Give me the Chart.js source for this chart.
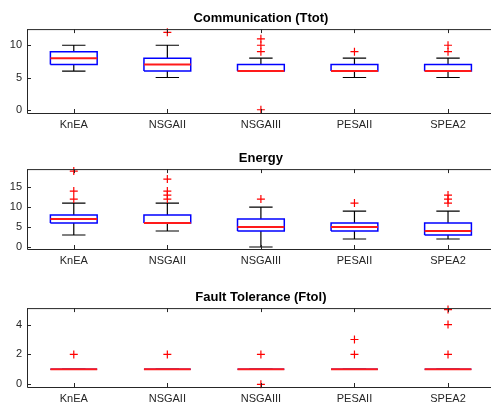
<!DOCTYPE html>
<html>
<head>
<meta charset="utf-8">
<script src="https://cdn.jsdelivr.net/npm/chart.js@4.4.1/dist/chart.umd.min.js"></script>
<style>
  html, body { margin: 0; padding: 0; background: #fff; }
  body { width: 491px; height: 403px; overflow: hidden; position: relative; }
  .plot { position: absolute; left: 0; }
</style>
</head>
<body>
<div class="plot" style="top:0px"><canvas id="c1" width="500" height="135"></canvas></div>
<div class="plot" style="top:140px"><canvas id="c2" width="500" height="131"></canvas></div>
<div class="plot" style="top:279px"><canvas id="c3" width="500" height="130"></canvas></div>
<script>
// algorithms on the x axis
const algos = ['KnEA', 'NSGAII', 'NSGAIII', 'PESAII', 'SPEA2'];

// Communication (Ttot)
const commLo  = [6, 5, 6, 5, 5];
const commQ1  = [7, 6, 6, 6, 6];
const commMed = [8, 7, 6, 6, 6];
const commQ3  = [9, 8, 7, 7, 7];
const commHi  = [10, 10, 8, 8, 8];
const commOut = [[], [12], [0, 9, 10, 11], [9], [9, 10]];
const commTicks = [0, 5, 10];

// Energy
const enLo  = [3, 4, 0, 2, 2];
const enQ1  = [6, 6, 4, 4, 3];
const enMed = [7, 6, 5, 5, 4];
const enQ3  = [8, 8, 7, 6, 6];
const enHi  = [11, 11, 10, 9, 9];
const enOut = [[12, 14, 19], [12, 13, 14, 17], [12], [11], [11, 12, 13]];
const enTicks = [0, 5, 10, 15];

// Fault Tolerance (Ftol)
const ftLo  = [1, 1, 1, 1, 1];
const ftQ1  = [1, 1, 1, 1, 1];
const ftMed = [1, 1, 1, 1, 1];
const ftQ3  = [1, 1, 1, 1, 1];
const ftHi  = [1, 1, 1, 1, 1];
const ftOut = [[2], [2], [0, 2], [2, 3], [2, 4, 5]];
const ftTicks = [0, 2, 4];

const axisColor = '#262626';
const fontFamily = "'Liberation Sans', Arial, Helvetica, sans-serif";

// axes box (top + left + bottom) and inward ticks, like matlab
const frame = {
  id: 'frame',
  afterDatasetsDraw(chart) {
    const { ctx, chartArea: a, scales: { x, y } } = chart;
    ctx.save();
    ctx.strokeStyle = axisColor;
    ctx.lineWidth = 1;
    ctx.beginPath();
    ctx.moveTo(a.left + 0.5, a.top + 0.5);
    ctx.lineTo(a.right, a.top + 0.5);
    ctx.moveTo(a.left + 0.5, a.top);
    ctx.lineTo(a.left + 0.5, a.bottom + 0.5);
    ctx.lineTo(a.right, a.bottom + 0.5);
    x.ticks.forEach(t => {
      const px = Math.round(x.getPixelForValue(t.value)) + 0.5;
      ctx.moveTo(px, a.bottom); ctx.lineTo(px, a.bottom - 4);
      ctx.moveTo(px, a.top); ctx.lineTo(px, a.top + 4);
    });
    y.ticks.forEach(t => {
      const py = Math.round(y.getPixelForValue(t.value)) + 0.5;
      ctx.moveTo(a.left, py); ctx.lineTo(a.left + 4, py);
    });
    ctx.stroke();
    ctx.restore();
  }
};

function boxDatasets(lo, q1, med, q3, hi, out) {
  const ds = [];
  const line = (data, color, width, order) => ({
    data: data, showLine: true, borderColor: color, borderWidth: width,
    pointRadius: 0, borderJoinStyle: 'miter', order: order, clip: 6
  });
  algos.forEach((name, i) => {
    const x = i + 1;
    ds.push(line([{x: x, y: q3[i]}, {x: x, y: hi[i]}, {x: x - 0.125, y: hi[i]}, {x: x + 0.125, y: hi[i]}], '#000', 1.2, 3));
    ds.push(line([{x: x, y: q1[i]}, {x: x, y: lo[i]}, {x: x - 0.125, y: lo[i]}, {x: x + 0.125, y: lo[i]}], '#000', 1.2, 3));
    ds.push(line([{x: x - 0.25, y: q1[i]}, {x: x + 0.25, y: q1[i]}, {x: x + 0.25, y: q3[i]},
                  {x: x - 0.25, y: q3[i]}, {x: x - 0.25, y: q1[i]}], '#0000ff', 1.5, 2));
    ds.push(line([{x: x - 0.25, y: med[i]}, {x: x + 0.25, y: med[i]}], '#ff1a1a', 2, 1));
    if (out[i].length) {
      ds.push({
        data: out[i].map(v => ({x: x, y: v})), showLine: false,
        pointStyle: 'cross', pointRadius: 4, borderColor: '#ff0000', borderWidth: 1.2,
        backgroundColor: '#ff0000', order: 0, clip: 6
      });
    }
  });
  return ds;
}

function makeChart(id, title, lo, q1, med, q3, hi, out, yMin, yMax, yTicks) {
  return new Chart(document.getElementById(id), {
    type: 'scatter',
    data: { datasets: boxDatasets(lo, q1, med, q3, hi, out) },
    plugins: [frame],
    options: {
      responsive: false,
      animation: false,
      events: [],
      layout: { padding: { top: 11, left: 0, right: 4, bottom: 0 } },
      plugins: {
        legend: { display: false },
        tooltip: { enabled: false },
        title: {
          display: true, text: title, fullSize: false, color: '#000',
          font: { family: fontFamily, size: 13, weight: 'bold' },
          padding: { top: 0, bottom: 2.5 }
        }
      },
      scales: {
        x: {
          type: 'linear', min: 0.5, max: 5.5,
          grid: { display: false, drawTicks: false },
          border: { display: false },
          afterBuildTicks: s => { s.ticks = algos.map((n, i) => ({ value: i + 1 })); },
          afterFit: s => { s.height = 22; },
          ticks: {
            autoSkip: false, maxRotation: 0, padding: 5, color: axisColor,
            font: { family: fontFamily, size: 11 },
            callback: v => algos[v - 1]
          }
        },
        y: {
          min: yMin, max: yMax,
          grid: { display: false, drawTicks: false },
          border: { display: false },
          afterBuildTicks: s => { s.ticks = yTicks.map(v => ({ value: v })); },
          afterFit: s => { s.width = 27; },
          ticks: {
            padding: 5, color: axisColor,
            font: { family: fontFamily, size: 11 }
          }
        }
      }
    }
  });
}

makeChart('c1', 'Communication (Ttot)', commLo, commQ1, commMed, commQ3, commHi, commOut, -0.5, 12.5, commTicks);
makeChart('c2', 'Energy', enLo, enQ1, enMed, enQ3, enHi, enOut, -0.5, 19.5, enTicks);
makeChart('c3', 'Fault Tolerance (Ftol)', ftLo, ftQ1, ftMed, ftQ3, ftHi, ftOut, -0.18, 5.1, ftTicks);
</script>
</body>
</html>
